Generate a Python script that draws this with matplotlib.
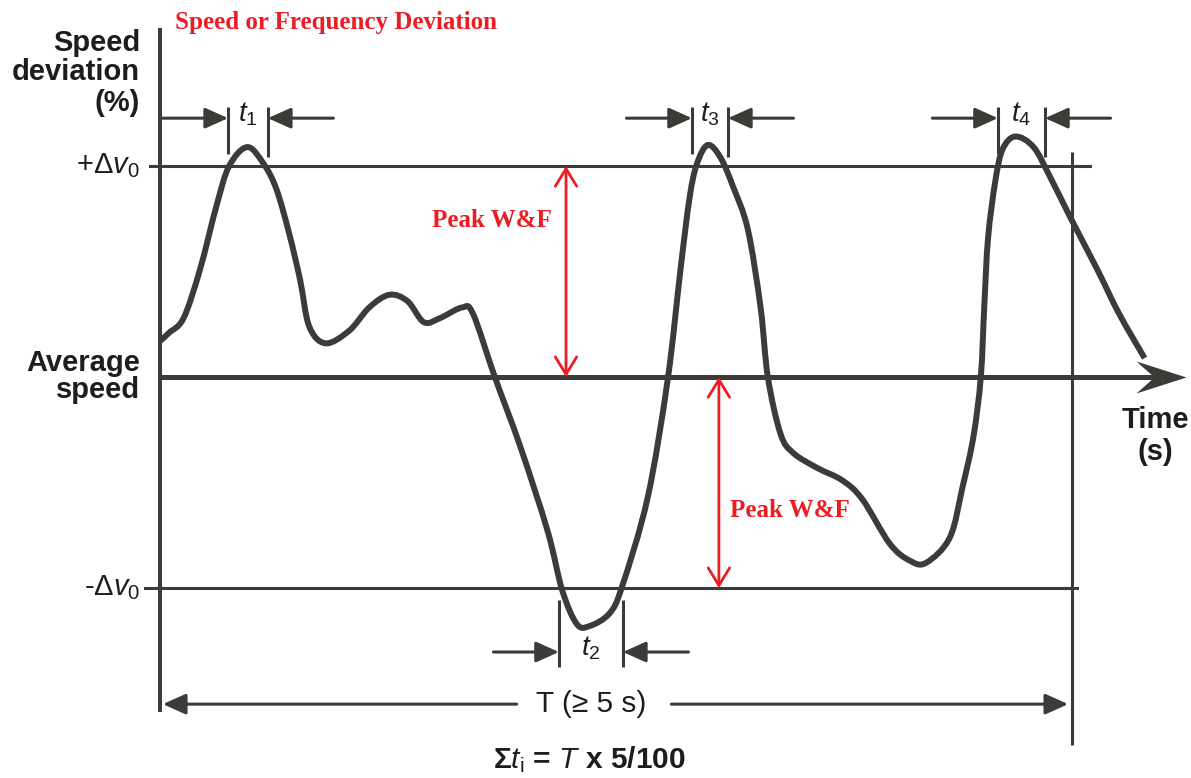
import numpy as np
import matplotlib
matplotlib.use("Agg")
import matplotlib.pyplot as plt
from matplotlib.path import Path
from matplotlib.patches import PathPatch

plt.rcParams['mathtext.fontset'] = 'custom'
plt.rcParams['mathtext.rm'] = 'Liberation Sans'
plt.rcParams['mathtext.it'] = 'Liberation Sans:italic'
plt.rcParams['mathtext.bf'] = 'Liberation Sans:bold'

# speed deviation trace: time (s) vs deviation in units of delta v0
time_s = [0.00, 0.05, 0.13, 0.22, 0.31, 0.38, 0.48, 0.57, 0.64, 0.71, 0.77,
          0.82, 0.91, 1.04, 1.15, 1.26, 1.36, 1.45, 1.54, 1.66, 1.72,
          1.84, 1.98, 2.13, 2.21, 2.29, 2.36, 2.47, 2.54, 2.68, 2.79,
          2.86, 2.91, 2.95, 3.01, 3.08, 3.15, 3.23, 3.30, 3.34, 3.41,
          3.48, 3.61, 3.75, 3.86, 4.01, 4.12, 4.21, 4.34, 4.41, 4.47,
          4.51, 4.53, 4.55, 4.59, 4.63, 4.70, 4.80, 4.89, 5.00, 5.15, 5.27, 5.41]
deviation = [0.17, 0.21, 0.28, 0.51, 0.81, 1.00, 1.09, 1.01, 0.89, 0.68, 0.46,
             0.24, 0.16, 0.22, 0.33, 0.39, 0.36, 0.26, 0.28, 0.33, 0.30,
             0.00, -0.33, -0.73, -1.01, -1.17, -1.18, -1.12, -0.99, -0.57, -0.01,
             0.51, 0.85, 1.01, 1.10, 1.04, 0.90, 0.70, 0.33, 0.00, -0.27,
             -0.36, -0.43, -0.49, -0.58, -0.79, -0.87, -0.88, -0.76, -0.52, -0.28,
             0.00, 0.35, 0.66, 0.93, 1.08, 1.14, 1.09, 0.95, 0.76, 0.51, 0.30, 0.09]

band = 1.0          # +/- delta v0
period_end = 5.0    # T
# peak windows t1..t4: (left, right, label level, label)
windows = [
    (0.374, 0.593, 1.227, r'$t_1$'),
    (2.923, 3.121, 1.227, r'$t_3$'),
    (4.604, 4.863, 1.227, r'$t_4$'),
    (2.192, 2.544, -1.303, r'$t_2$'),
]
peak_arrow_x = [2.231, 3.071]

DARK = '#3c3b37'
RED = '#ec1c24'
INK = '#1e1c1c'


def smooth_path(xs, ys):
    # Catmull-Rom through the points, written as cubic Bezier segments
    pts = np.column_stack([xs, ys])
    verts = [pts[0]]
    codes = [Path.MOVETO]
    n = len(pts)
    for i in range(n - 1):
        p0 = pts[max(i - 1, 0)]
        p1 = pts[i]
        p2 = pts[i + 1]
        p3 = pts[min(i + 2, n - 1)]
        verts += [p1 + (p2 - p0) / 6, p2 - (p3 - p1) / 6, p2]
        codes += [Path.CURVE4] * 3
    return Path(verts, codes)


fig = plt.figure(figsize=(11.91, 7.78), dpi=100)
ax = fig.add_axes([0, 0, 1, 1])
ax.set_xlim(-0.879, 5.665)
ax.set_ylim(-1.900, 1.787)
ax.axis('off')

# axes frame
ax.plot([0, 0], [-1.588, 1.654], color=DARK, lw=2.9, solid_capstyle='butt')
ax.plot([period_end + 0.01] * 2, [-1.744, 1.066], color=DARK, lw=2.2, solid_capstyle='butt')
ax.plot([-0.055, 5.11], [band, band], color=DARK, lw=2.2)
ax.plot([-0.082, 5.04], [-band, -band], color=DARK, lw=2.2)
ax.plot([0, 5.55], [0, 0], color=DARK, lw=3.6)

# notched arrow head on the time axis
head = Path([(0, 0), (-1, 0.32), (-0.64, 0), (-1, -0.32), (0, 0)],
            [Path.MOVETO, Path.LINETO, Path.LINETO, Path.LINETO, Path.CLOSEPOLY])
ax.plot([5.64], [0], marker=head, markersize=72, color=DARK, mec=DARK, mew=0)

# trace
ax.add_patch(PathPatch(smooth_path(time_s, deviation), fill=False, edgecolor=DARK,
                       lw=4.3, joinstyle='round', capstyle='butt'))

# t_i windows
black_arrow = dict(arrowstyle='-|>,head_length=1.0,head_width=0.45',
                   color=DARK, lw=2.2, mutation_scale=14, shrinkA=0, shrinkB=0)
for left, right, lvl, lab in windows:
    if lvl > 0:
        ax.plot([left, left], [1.057, 1.28], color=DARK, lw=2.2, solid_capstyle='butt')
        ax.plot([right, right], [1.043, 1.28], color=DARK, lw=2.2, solid_capstyle='butt')
    else:
        ax.plot([left, left], [-1.374, -1.057], color=DARK, lw=2.2, solid_capstyle='butt')
        ax.plot([right, right], [-1.374, -1.057], color=DARK, lw=2.2, solid_capstyle='butt')
    ax.annotate('', xy=(left, lvl), xytext=(left - 0.36, lvl), arrowprops=black_arrow)
    ax.annotate('', xy=(right, lvl), xytext=(right + 0.36, lvl), arrowprops=black_arrow)
    ax.text((left + right) / 2, lvl + 0.02, lab, fontsize=20, color=INK,
            ha='center', va='center')

# T span
ax.annotate('', xy=(0.016, -1.55), xytext=(1.96, -1.55), arrowprops=black_arrow)
ax.annotate('', xy=(4.99, -1.55), xytext=(2.81, -1.55), arrowprops=black_arrow)
ax.text(2.37, -1.55, 'T (≥ 5 s)', fontsize=21.5, family='Liberation Sans',
        color=INK, ha='center', va='center')
ax.text(2.36, -1.815, r'Σ$t_\mathrm{i}$ = $T$ x 5/100', fontsize=21.5,
        family='Liberation Sans', fontweight='bold', color=INK,
        ha='center', va='center')

# peak W&F arrows
red_arrow = dict(arrowstyle='<->,head_length=0.9,head_width=0.55', color=RED,
                 lw=2.0, mutation_scale=14, shrinkA=0, shrinkB=0)
ax.annotate('', xy=(peak_arrow_x[0], band), xytext=(peak_arrow_x[0], 0),
            arrowprops=red_arrow)
ax.annotate('', xy=(peak_arrow_x[1], 0), xytext=(peak_arrow_x[1], -band),
            arrowprops=red_arrow)
serif = dict(family='Liberation Serif', fontweight='bold', color=RED, fontsize=18)
ax.text(1.824, 0.744, 'Peak W&F', ha='center', va='center', **serif)
ax.text(3.132, -0.630, 'Peak W&F', ha='left', va='center', **serif)
ax.text(0.082, 1.682, 'Speed or Frequency Deviation', ha='left', va='center', **serif)

# axis labels
sans = dict(family='Liberation Sans', fontweight='bold', color=INK, fontsize=21)
ax.text(-0.11, 1.583, 'Speed', ha='right', va='center', **sans)
ax.text(-0.11, 1.445, 'deviation', ha='right', va='center', **sans)
ax.text(-0.11, 1.299, '(%)', ha='right', va='center', **sans)
ax.text(-0.11, 0.066, 'Average', ha='right', va='center', **sans)
ax.text(-0.11, -0.062, 'speed', ha='right', va='center', **sans)
ax.text(5.47, -0.204, 'Time', ha='center', va='center', **sans)
ax.text(5.47, -0.355, '(s)', ha='center', va='center', **sans)
ax.text(-0.11, band, r'+$\Delta v_0$', ha='right', va='center',
        family='Liberation Sans', color=INK, fontsize=21)
ax.text(-0.11, -band, r'-$\Delta v_0$', ha='right', va='center',
        family='Liberation Sans', color=INK, fontsize=21)

fig.savefig('out.png', dpi=100, facecolor='white')
